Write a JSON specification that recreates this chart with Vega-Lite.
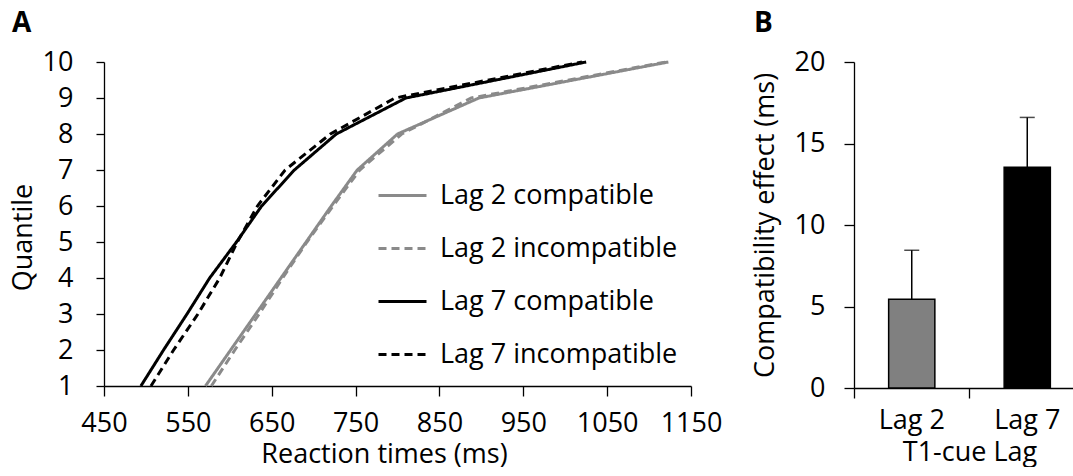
{
  "$schema": "https://vega.github.io/schema/vega-lite/v6.json",
  "background": "white",
  "padding": {"left": 9, "top": 10, "right": 0, "bottom": 0},
  "bounds": "flush",
  "spacing": 163,
  "resolve": {"scale": {"color": "independent", "strokeDash": "independent", "fill": "independent"}},
  "datasets": {
    "cdf": [
      {"condition": "Lag 2 compatible", "quantile": 1, "rt": 571},
      {"condition": "Lag 2 compatible", "quantile": 2, "rt": 601},
      {"condition": "Lag 2 compatible", "quantile": 3, "rt": 631},
      {"condition": "Lag 2 compatible", "quantile": 4, "rt": 661},
      {"condition": "Lag 2 compatible", "quantile": 5, "rt": 691},
      {"condition": "Lag 2 compatible", "quantile": 6, "rt": 721},
      {"condition": "Lag 2 compatible", "quantile": 7, "rt": 752},
      {"condition": "Lag 2 compatible", "quantile": 8, "rt": 800},
      {"condition": "Lag 2 compatible", "quantile": 9, "rt": 897},
      {"condition": "Lag 2 compatible", "quantile": 10, "rt": 1123},
      {"condition": "Lag 7 compatible", "quantile": 1, "rt": 494},
      {"condition": "Lag 7 compatible", "quantile": 2, "rt": 521},
      {"condition": "Lag 7 compatible", "quantile": 3, "rt": 549},
      {"condition": "Lag 7 compatible", "quantile": 4, "rt": 576},
      {"condition": "Lag 7 compatible", "quantile": 5, "rt": 608},
      {"condition": "Lag 7 compatible", "quantile": 6, "rt": 638},
      {"condition": "Lag 7 compatible", "quantile": 7, "rt": 677},
      {"condition": "Lag 7 compatible", "quantile": 8, "rt": 727},
      {"condition": "Lag 7 compatible", "quantile": 9, "rt": 810},
      {"condition": "Lag 7 compatible", "quantile": 10, "rt": 1025},
      {"condition": "Lag 2 incompatible", "quantile": 1, "rt": 578},
      {"condition": "Lag 2 incompatible", "quantile": 2, "rt": 606},
      {"condition": "Lag 2 incompatible", "quantile": 3, "rt": 635},
      {"condition": "Lag 2 incompatible", "quantile": 4, "rt": 663},
      {"condition": "Lag 2 incompatible", "quantile": 5, "rt": 692},
      {"condition": "Lag 2 incompatible", "quantile": 6, "rt": 723},
      {"condition": "Lag 2 incompatible", "quantile": 7, "rt": 755},
      {"condition": "Lag 2 incompatible", "quantile": 8, "rt": 805},
      {"condition": "Lag 2 incompatible", "quantile": 9, "rt": 888},
      {"condition": "Lag 2 incompatible", "quantile": 10, "rt": 1120},
      {"condition": "Lag 7 incompatible", "quantile": 1, "rt": 506},
      {"condition": "Lag 7 incompatible", "quantile": 2, "rt": 533},
      {"condition": "Lag 7 incompatible", "quantile": 3, "rt": 562},
      {"condition": "Lag 7 incompatible", "quantile": 4, "rt": 588},
      {"condition": "Lag 7 incompatible", "quantile": 5, "rt": 609},
      {"condition": "Lag 7 incompatible", "quantile": 6, "rt": 633},
      {"condition": "Lag 7 incompatible", "quantile": 7, "rt": 666},
      {"condition": "Lag 7 incompatible", "quantile": 8, "rt": 720},
      {"condition": "Lag 7 incompatible", "quantile": 9, "rt": 797},
      {"condition": "Lag 7 incompatible", "quantile": 10, "rt": 1020}
    ],
    "effect": [
      {"lag": "Lag 2", "effect": 5.45, "upper": 8.45},
      {"lag": "Lag 7", "effect": 13.55, "upper": 16.6}
    ]
  },
  "hconcat": [
    {
      "width": 587,
      "height": 324,
      "title": {"text": "A", "dx": 3},
      "data": {"name": "cdf"},
      "mark": {"type": "line", "strokeWidth": 3},
      "encoding": {
        "x": {
          "field": "rt", "type": "quantitative",
          "scale": {"domain": [450, 1150], "nice": false, "zero": false},
          "axis": {"values": [450, 550, 650, 750, 850, 950, 1050, 1150], "format": "d", "labelOverlap": false, "labelFlush": false, "title": "Reaction times (ms)", "labelPadding": 14, "titleX": 280, "titleAlign": "center", "titlePadding": 5}
        },
        "y": {
          "field": "quantile", "type": "quantitative",
          "scale": {"domain": [1, 10], "nice": false, "zero": false},
          "axis": {"values": [1, 2, 3, 4, 5, 6, 7, 8, 9, 10], "labelOverlap": false, "labelFlush": false, "title": "Quantile", "tickSize": 8, "labelPadding": 23, "titlePadding": 5, "titleY": 175}
        },
        "color": {
          "field": "condition", "type": "nominal",
          "scale": {"domain": ["Lag 2 compatible", "Lag 2 incompatible", "Lag 7 compatible", "Lag 7 incompatible"], "range": ["#8a8a8a", "#8a8a8a", "#000000", "#000000"]},
          "legend": {"title": null, "orient": "none", "legendX": 273, "legendY": 108}
        },
        "strokeDash": {
          "field": "condition", "type": "nominal",
          "scale": {"domain": ["Lag 2 compatible", "Lag 2 incompatible", "Lag 7 compatible", "Lag 7 incompatible"], "range": [[1, 0], [8, 5], [1, 0], [8, 5]]},
          "legend": {"title": null, "orient": "none", "legendX": 273, "legendY": 108}
        }
      }
    },
    {
      "width": 231,
      "height": 326,
      "title": {"text": "B", "dx": 3},
      "data": {"name": "effect"},
      "encoding": {
        "x": {
          "field": "lag", "type": "nominal",
          "scale": {"paddingInner": 0, "paddingOuter": 0},
          "axis": {"title": "T1-cue Lag", "labelAngle": 0, "bandPosition": 0, "labelPadding": 9, "titlePadding": 6}
        }
      },
      "layer": [
        {
          "mark": {"type": "bar", "width": {"band": 0.4}, "stroke": "#000000", "strokeWidth": 1.5},
          "encoding": {
            "y": {
              "field": "effect", "type": "quantitative",
              "scale": {"domain": [0, 20], "nice": false},
              "axis": {"values": [0, 5, 10, 15, 20], "title": "Compatibility effect (ms)", "labelPadding": 19, "titlePadding": 15}
            },
            "fill": {"field": "lag", "type": "nominal", "scale": {"domain": ["Lag 2", "Lag 7"], "range": ["#808080", "#000000"]}, "legend": null}
          }
        },
        {
          "mark": {"type": "rule", "color": "#000000", "strokeWidth": 1.5},
          "encoding": {
            "y": {"field": "effect", "type": "quantitative"},
            "y2": {"field": "upper"}
          }
        },
        {
          "mark": {"type": "tick", "color": "#000000", "thickness": 1.5, "size": 15, "orient": "horizontal"},
          "encoding": {
            "y": {"field": "upper", "type": "quantitative"}
          }
        }
      ]
    }
  ],
  "config": {
    "view": {"stroke": null},
    "font": "Open Sans",
    "axis": {
      "grid": false,
      "domainColor": "#000000",
      "tickColor": "#000000",
      "labelColor": "#000000",
      "titleColor": "#000000",
      "labelFont": "Open Sans",
      "titleFont": "Open Sans",
      "labelFontSize": 27,
      "titleFontSize": 27,
      "titleFontWeight": "normal",
      "tickSize": 10,
      "domainWidth": 1.3,
      "tickWidth": 1.3
    },
    "legend": {
      "labelFont": "Open Sans",
      "labelFontSize": 27,
      "labelColor": "#000000",
      "labelLimit": 0,
      "symbolType": "stroke",
      "symbolSize": 2304,
      "symbolStrokeWidth": 3,
      "labelOffset": 12,
      "rowPadding": 14,
      "padding": 0
    },
    "title": {
      "font": "Open Sans",
      "fontSize": 28,
      "fontWeight": "bold",
      "color": "#000000",
      "anchor": "start",
      "frame": "bounds",
      "offset": 10
    }
  }
}
